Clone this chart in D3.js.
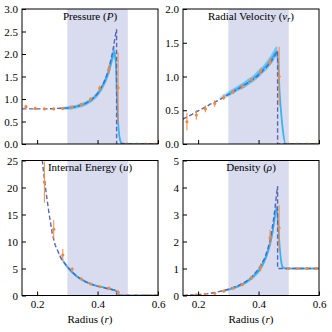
<!DOCTYPE html>
<html>
<head>
<meta charset="utf-8">
<script src="https://cdn.jsdelivr.net/npm/d3@7"></script>
<style>
  body { margin: 0; background: #fff; }
</style>
</head>
<body>
<script>
// analytic (Sedov) solution, shock at r = 0.463
var rGrid = [0.15, 0.18, 0.20, 0.21, 0.22, 0.23, 0.24, 0.25, 0.26, 0.28, 0.30, 0.33, 0.36, 0.38, 0.40,
  0.42, 0.43, 0.44, 0.45, 0.455, 0.46, 0.463, 0.463, 0.50, 0.55, 0.60];
var pressureExact = [0.78, 0.78, 0.78, 0.78, 0.78, 0.78, 0.785, 0.785, 0.79, 0.795, 0.80, 0.83, 0.90, 0.98, 1.12,
  1.35, 1.52, 1.75, 2.05, 2.25, 2.45, 2.55, 0, 0, 0, 0];
var velocityExact = [0.37, 0.44, 0.49, 0.51, 0.54, 0.56, 0.59, 0.61, 0.63, 0.68, 0.73, 0.81, 0.89, 0.95, 1.02,
  1.11, 1.16, 1.21, 1.28, 1.32, 1.36, 1.38, 0, 0, 0, 0];
var energyExact = [130, 55, 35, 29, 23.5, 19, 15, 11.5, 9.3, 6.8, 5.3, 3.6, 2.5, 2.05, 1.7,
  1.45, 1.3, 1.2, 1.05, 1.0, 0.95, 0.93, 0, 0, 0, 0];
var densityExact = [0.005, 0.02, 0.03, 0.04, 0.05, 0.06, 0.08, 0.1, 0.12, 0.17, 0.23, 0.35, 0.53, 0.72, 0.98,
  1.38, 1.7, 2.15, 2.85, 3.3, 3.8, 4.05, 1, 1, 1, 1];

// simulation band (mean and spread of the runs)
var simR = [0.27, 0.30, 0.33, 0.36, 0.38, 0.40, 0.42, 0.43, 0.44, 0.45, 0.455, 0.46, 0.465, 0.47, 0.475,
  0.48, 0.49, 0.50, 0.55, 0.60];
var pressureSim = [0.79, 0.80, 0.83, 0.90, 0.98, 1.11, 1.33, 1.48, 1.68, 1.95, 2.05, 1.85, 0.9, 0.3, 0.08,
  0.02, 0, 0, 0, 0];
var pressureSpread = [0.03, 0.04, 0.04, 0.05, 0.05, 0.06, 0.08, 0.09, 0.11, 0.13, 0.14, 0.14, 0.12, 0.07, 0.03,
  0.01, 0, 0, 0, 0];
var velocitySim = [0.68, 0.74, 0.82, 0.90, 0.96, 1.04, 1.13, 1.18, 1.24, 1.31, 1.35, 1.37, 1.2, 0.75, 0.45,
  0.22, 0, 0, 0, 0];
var velocitySpread = [0.04, 0.04, 0.04, 0.05, 0.05, 0.06, 0.06, 0.07, 0.07, 0.08, 0.08, 0.08, 0.07, 0.05, 0.04,
  0.03, 0, 0, 0, 0];
var energySim = [7.8, 5.3, 3.6, 2.6, 2.1, 1.75, 1.5, 1.35, 1.25, 1.1, 1.0, 0.9, 0.6, 0.2, 0.05,
  0, 0, 0, 0, 0];
var energySpread = [0.45, 0.35, 0.25, 0.2, 0.18, 0.15, 0.15, 0.15, 0.15, 0.15, 0.15, 0.15, 0.12, 0.06, 0.02,
  0, 0, 0, 0, 0];
var densitySim = [0.15, 0.22, 0.33, 0.5, 0.68, 0.92, 1.3, 1.6, 2.0, 2.6, 3.0, 3.25, 2.6, 1.8, 1.25,
  1.05, 1.0, 1.0, 1.0, 1.0];
var densitySpread = [0.03, 0.04, 0.05, 0.06, 0.08, 0.1, 0.12, 0.14, 0.16, 0.17, 0.17, 0.14, 0.12, 0.07, 0.04,
  0.02, 0.02, 0.02, 0.02, 0.02];

// binned points with error bars
var binR = [0.163, 0.194, 0.224, 0.255, 0.285, 0.316, 0.346, 0.377, 0.407, 0.438, 0.468, 0.499, 0.529, 0.56, 0.59];
var pressureBin = [0.83, 0.79, 0.78, 0.78, 0.79, 0.82, 0.88, 1.0, 1.24, 1.67, 1.25, 0, 0, 0, 0];
var pressureErr = [0.04, 0.02, 0.02, 0.02, 0.02, 0.02, 0.03, 0.04, 0.06, 0.1, 0.79, 0, 0, 0, 0];
var velocityBin = [0.33, 0.43, 0.52, 0.6, 0.69, 0.77, 0.85, 0.95, 1.08, 1.22, 1.0, 0, 0, 0, 0];
var velocityErr = [0.13, 0.07, 0.05, 0.05, 0.04, 0.03, 0.03, 0.03, 0.04, 0.05, 0.44, 0, 0, 0, 0];
var energyBin = [95, 40, 21, 12.25, 7.5, 4.9, 3.07, 2.15, 1.65, 1.35, 0.6, 0, 0, 0, 0];
var energyErr = [20, 8, 3.8, 1.7, 1.1, 0.3, 0.2, 0.1, 0.1, 0.1, 0.45, 0, 0, 0, 0];
var densityBin = [0, 0.02, 0.04, 0.08, 0.16, 0.27, 0.4, 0.65, 1.04, 2.14, 2.5, 1, 1, 1, 1];
var densityErr = [0, 0.01, 0.01, 0.02, 0.02, 0.03, 0.04, 0.06, 0.15, 0.3, 0.85, 0, 0, 0, 0];

var xTicks = [0.2, 0.4, 0.6];
var pressureTicks = [0, 0.5, 1, 1.5, 2, 2.5, 3];
var velocityTicks = [0, 0.5, 1, 1.5, 2];
var energyTicks = [0, 5, 10, 15, 20, 25];
var densityTicks = [0, 1, 2, 3, 4, 5];
var shadeRange = [0.3, 0.5];

var W = 136, H = 135;
var blue = "#29b0f4", orange = "#f5883a", slate = "#5a66b3";
var serif = "'Liberation Serif', 'Times New Roman', Times, serif";

var panels = [
  { left: 22, top: 9, name: "Pressure", sym: "P", yMax: 3, ticks: pressureTicks, fmt: d3.format(".1f"),
    exact: pressureExact, sim: pressureSim, spread: pressureSpread, bin: pressureBin, err: pressureErr, bottom: false },
  { left: 183, top: 9, name: "Radial Velocity", sym: "v", sub: "r", yMax: 2, ticks: velocityTicks, fmt: d3.format(".1f"),
    exact: velocityExact, sim: velocitySim, spread: velocitySpread, bin: velocityBin, err: velocityErr, bottom: false },
  { left: 22, top: 160.5, name: "Internal Energy", sym: "u", yMax: 25, ticks: energyTicks, fmt: d3.format("d"),
    exact: energyExact, sim: energySim, spread: energySpread, bin: energyBin, err: energyErr, bottom: true },
  { left: 183, top: 160.5, name: "Density", sym: "\u03c1", yMax: 5, ticks: densityTicks, fmt: d3.format("d"),
    exact: densityExact, sim: densitySim, spread: densitySpread, bin: densityBin, err: densityErr, bottom: true }
];

var svg = d3.select("body").append("svg").attr("width", 332).attr("height", 332)
  .attr("font-family", serif).attr("font-size", 11);
var x = d3.scaleLinear().domain([0.15, 0.6]).range([0, W]);

var defs = svg.append("defs");
defs.append("clipPath").attr("id", "clip")
  .append("rect").attr("width", W).attr("height", H);
function fade(id, op) {
  var g = defs.append("linearGradient").attr("id", id)
    .attr("gradientUnits", "userSpaceOnUse")
    .attr("x1", x(0.265)).attr("x2", x(0.31)).attr("y1", 0).attr("y2", 0);
  g.append("stop").attr("offset", 0).attr("stop-color", blue).attr("stop-opacity", 0);
  g.append("stop").attr("offset", 1).attr("stop-color", blue).attr("stop-opacity", op);
}
fade("bandFade", 0.55);
fade("lineFade", 0.9);

panels.forEach(function (p) {
  var y = d3.scaleLinear().domain([0, p.yMax]).range([H, 0]);
  var g = svg.append("g").attr("transform", "translate(" + p.left + "," + p.top + ")");
  var plot = g.append("g").attr("clip-path", "url(#clip)");

  plot.append("rect")
    .attr("x", x(shadeRange[0])).attr("width", x(shadeRange[1]) - x(shadeRange[0]))
    .attr("y", 0).attr("height", H)
    .attr("fill", "#d9dcef");

  var simData = simR.map(function (r, i) { return { r: r, v: p.sim[i], s: p.spread[i] }; });
  plot.append("path").datum(simData)
    .attr("fill", "url(#bandFade)")
    .attr("d", d3.area().curve(d3.curveMonotoneX)
      .x(function (d) { return x(d.r); })
      .y0(function (d) { return y(d.v - d.s); })
      .y1(function (d) { return y(d.v + d.s); }));
  plot.append("path").datum(simData)
    .attr("fill", "none").attr("stroke", "url(#lineFade)").attr("stroke-width", 1.8)
    .attr("d", d3.line().curve(d3.curveMonotoneX)
      .x(function (d) { return x(d.r); })
      .y(function (d) { return y(d.v); }));

  var exactData = rGrid.map(function (r, i) { return [r, p.exact[i]]; });
  plot.append("path").datum(exactData)
    .attr("fill", "none").attr("stroke", slate).attr("stroke-width", 1.4)
    .attr("stroke-dasharray", "4.5,2.5")
    .attr("d", d3.line()
      .x(function (d) { return x(d[0]); })
      .y(function (d) { return y(d[1]); }));

  var pts = plot.selectAll(".bin").data(binR.map(function (r, i) {
    return { r: r, v: p.bin[i], e: p.err[i] };
  })).enter().append("g").attr("class", "bin");
  pts.append("line")
    .attr("x1", function (d) { return x(d.r); }).attr("x2", function (d) { return x(d.r); })
    .attr("y1", function (d) { return y(d.v - d.e); }).attr("y2", function (d) { return y(d.v + d.e); })
    .attr("stroke", orange).attr("stroke-width", 1);
  pts.append("circle")
    .attr("cx", function (d) { return x(d.r); }).attr("cy", function (d) { return y(d.v); })
    .attr("r", 1.6).attr("fill", orange);

  var xAxis = d3.axisBottom(x).tickValues(xTicks).tickSize(-4).tickPadding(5)
    .tickFormat(p.bottom ? d3.format(".1f") : "");
  g.append("g").attr("transform", "translate(0," + H + ")").call(xAxis)
    .call(function (a) { a.select(".domain").remove(); });
  var yAxis = d3.axisLeft(y).tickValues(p.ticks).tickSize(-4).tickPadding(4).tickFormat(p.fmt);
  g.append("g").call(yAxis).call(function (a) { a.select(".domain").remove(); });
  g.selectAll("g").attr("font-family", serif).attr("font-size", 11);

  g.append("rect").attr("width", W).attr("height", H)
    .attr("fill", "none").attr("stroke", "#000").attr("stroke-width", 1);

  var t = g.append("text").attr("x", W / 2).attr("y", 10.5).attr("text-anchor", "middle");
  t.append("tspan").text(p.name + " (");
  t.append("tspan").attr("font-style", "italic").text(p.sym);
  if (p.sub) {
    t.append("tspan").attr("font-style", "italic").attr("font-size", 8).attr("dy", 2).text(p.sub);
    t.append("tspan").attr("dy", -2).text(")");
  } else {
    t.append("tspan").text(")");
  }

  if (p.bottom) {
    var lab = g.append("text").attr("x", W / 2).attr("y", H + 27).attr("text-anchor", "middle");
    lab.append("tspan").text("Radius (");
    lab.append("tspan").attr("font-style", "italic").text("r");
    lab.append("tspan").text(")");
  }
});
</script>
</body>
</html>
